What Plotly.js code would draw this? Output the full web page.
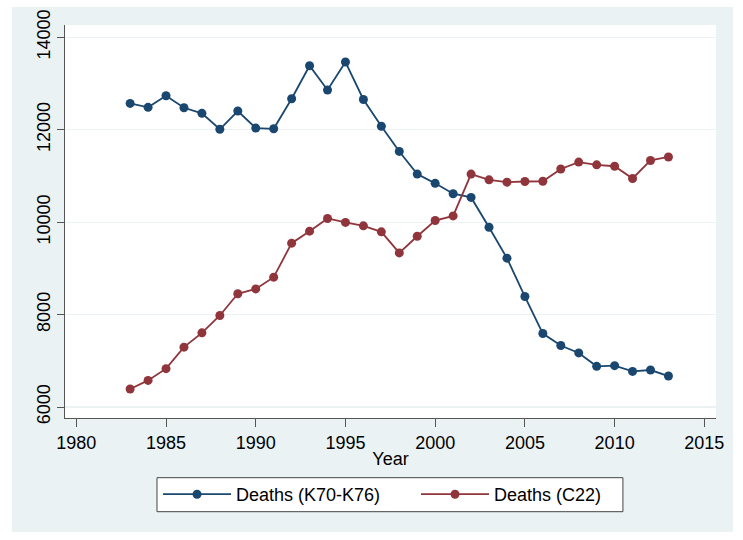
<!DOCTYPE html>
<html>
<head>
<meta charset="utf-8">
<script src="https://cdn.plot.ly/plotly-3.0.1.min.js"></script>
<style>
  html, body { margin: 0; padding: 0; background: #ffffff; width: 743px; height: 540px; overflow: hidden; }
  #chart { position: absolute; left: 12px; top: 7px; width: 721px; height: 525px; }
</style>
</head>
<body>
<div id="chart"></div>
<script>
const years = [1983, 1984, 1985, 1986, 1987, 1988, 1989, 1990, 1991, 1992, 1993, 1994, 1995, 1996, 1997, 1998, 1999, 2000, 2001, 2002, 2003, 2004, 2005, 2006, 2007, 2008, 2009, 2010, 2011, 2012, 2013];
const deathsK70K76 = [12570, 12485, 12735, 12475, 12355, 12010, 12405, 12035, 12020, 12670, 13385, 12860, 13465, 12655, 12075, 11530, 11040, 10840, 10615, 10535, 9890, 9220, 8390, 7590, 7330, 7170, 6880, 6895, 6770, 6800, 6670];
const deathsC22 = [6390, 6575, 6830, 7295, 7605, 7980, 8450, 8555, 8810, 9545, 9805, 10080, 9995, 9920, 9790, 9335, 9695, 10035, 10135, 11040, 10915, 10865, 10880, 10885, 11150, 11300, 11240, 11210, 10945, 11335, 11410];
const xTicks = [1980, 1985, 1990, 1995, 2000, 2005, 2010, 2015];
const yTicks = [6000, 8000, 10000, 12000, 14000];
const seriesNames = ["Deaths (K70-K76)", "Deaths (C22)"];

const navy = "#1a476f";
const maroon = "#90353b";
const bgTint = "#eaf2f3";
const font = "'Liberation Sans', Arial, sans-serif";
const fs = 18;

const traces = [
  {
    x: years, y: deathsK70K76, name: seriesNames[0], type: "scatter", mode: "lines+markers",
    line: { color: navy, width: 1.8 }, marker: { color: navy, size: 9 }
  },
  {
    x: years, y: deathsC22, name: seriesNames[1], type: "scatter", mode: "lines+markers",
    line: { color: maroon, width: 1.8 }, marker: { color: maroon, size: 9 }
  }
];

const layout = {
  width: 721, height: 525,
  margin: { l: 53, r: 17, t: 18, b: 114 },
  paper_bgcolor: bgTint,
  plot_bgcolor: "#ffffff",
  font: { family: font, size: fs, color: "#000000" },
  showlegend: true,
  xaxis: {
    range: [1979.37, 2015.65],
    tickmode: "array", tickvals: xTicks, ticktext: xTicks.map(String),
    ticks: "outside", ticklen: 8, tickwidth: 1, tickcolor: "#555555",
    showline: true, linecolor: "#555555", linewidth: 1,
    showgrid: false, zeroline: false,
    tickfont: { family: font, size: fs, color: "#000" },
    title: { text: "Year", font: { family: font, size: fs, color: "#000" }, standoff: 0 }
  },
  yaxis: {
    range: [5762, 14266],
    tickmode: "array", tickvals: yTicks, ticktext: yTicks.map(String),
    tickangle: -90,
    ticks: "outside", ticklen: 7, tickwidth: 1, tickcolor: "#555555",
    showline: true, linecolor: "#555555", linewidth: 1,
    showgrid: true, gridcolor: bgTint, gridwidth: 1.2, zeroline: false,
    tickfont: { family: font, size: fs, color: "#000" }
  },
  shapes: [
    {
      type: "rect", xref: "paper", yref: "paper",
      x0: 0.1413, x1: 0.857, y0: -0.2384, y1: -0.1519,
      fillcolor: "#ffffff", line: { color: "#444444", width: 1 }, layer: "above"
    }
  ],
  legend: {
    orientation: "h", x: 0.1429, xanchor: "left", y: -0.1476, yanchor: "top",
    bgcolor: "rgba(0,0,0,0)", borderwidth: 0,
    font: { family: font, size: fs, color: "#000" },
    itemwidth: 68, entrywidth: 175, tracegroupgap: 0
  }
};

Plotly.newPlot("chart", traces, layout, { displayModeBar: false, staticPlot: true });
</script>
</body>
</html>
